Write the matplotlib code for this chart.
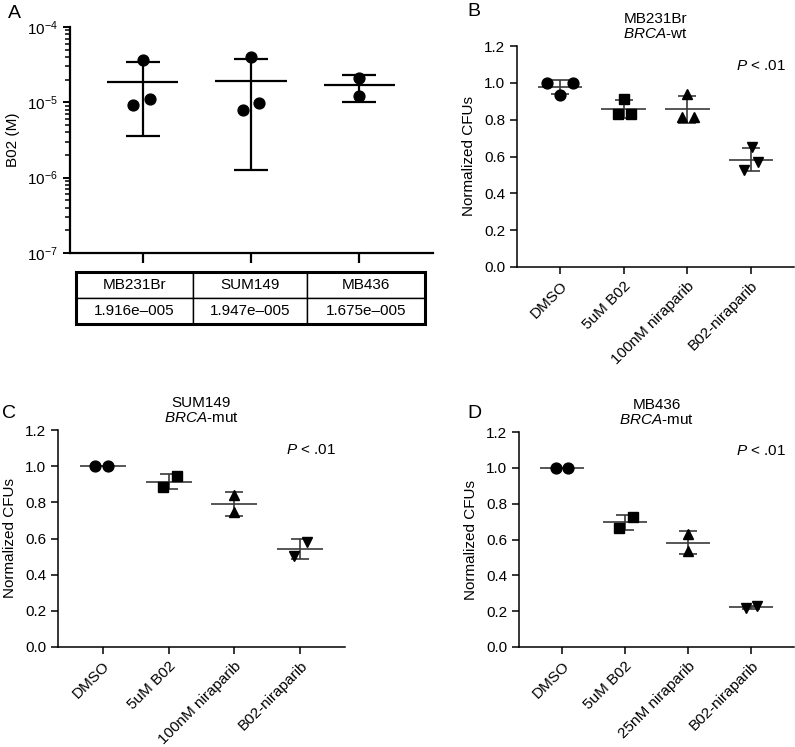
import numpy as np
import matplotlib
matplotlib.use('Agg')
import matplotlib.pyplot as plt
import matplotlib.transforms as mtransforms
from matplotlib.patches import Rectangle

plt.rcParams['font.family'] = ['Liberation Sans', 'DejaVu Sans']
plt.rcParams['mathtext.fontset'] = 'custom'
plt.rcParams['mathtext.rm'] = 'Liberation Sans'
plt.rcParams['mathtext.it'] = 'Liberation Sans:italic'
plt.rcParams['font.size'] = 11

# Panel A: B02 IC50 per cell line (M)
linesA = ['MB231Br', 'SUM149', 'MB436']
ic50A = [
    [3.66e-5, 9.1e-6, 1.1e-5],
    [3.98e-5, 7.9e-6, 9.8e-6],
    [2.135e-5, 1.215e-5],
]
tableA = [1.916e-5, 1.947e-5, 1.675e-5]

# Panels B-D: normalized CFUs
groupsB = ['DMSO', '5uM B02', '100nM niraparib', 'B02-niraparib']
cfuB = [
    [1.0, 1.0, 0.935],
    [0.913, 0.83, 0.83],
    [0.94, 0.815, 0.815],
    [0.652, 0.571, 0.527],
]
groupsC = ['DMSO', '5uM B02', '100nM niraparib', 'B02-niraparib']
cfuC = [
    [1.0, 1.0],
    [0.884, 0.945],
    [0.84, 0.746],
    [0.503, 0.58],
]
groupsD = ['DMSO', '5uM B02', '25nM niraparib', 'B02-niraparib']
cfuD = [
    [1.0, 1.0],
    [0.664, 0.726],
    [0.63, 0.536],
    [0.215, 0.228],
]

# horizontal scatter offsets of the points (layout only)
offA = [[0, -0.09, 0.07], [0, -0.07, 0.07], [0, 0]]
offB = [[-0.2, 0.2, 0], [0, -0.09, 0.11], [0, -0.09, 0.11], [0.02, 0.12, -0.1]]
offC = [[-0.12, 0.08], [-0.08, 0.13], [0, 0], [-0.1, 0.1]]
offD = [[-0.1, 0.1], [-0.1, 0.12], [0, 0], [-0.08, 0.1]]
markers = ['o', 's', '^', 'v']

W, H = 795, 747
fig = plt.figure(figsize=(W / 100, H / 100), dpi=100)


def px_axes(l, t, r, b):
    return fig.add_axes([l / W, 1 - b / H, (r - l) / W, (b - t) / H])


# ---- A ----
axA = px_axes(70, 27, 433, 253)
for i, vals in enumerate(ic50A):
    vals = np.array(vals)
    m = vals.mean()
    sd = vals.std(ddof=1)
    axA.plot(i + np.array(offA[i]), vals, 'o', color='black', ms=7.8, zorder=3)
    axA.hlines(m, i - 0.33, i + 0.33, color='black', lw=1.6)
    axA.errorbar(i, m, yerr=sd, fmt='none', ecolor='black', elinewidth=1.6,
                 capsize=12, capthick=1.6)
axA.set_yscale('log')
axA.set_ylim(1e-7, 1e-4)
axA.set_xlim(-0.67, 2.68)
axA.set_xticks(range(len(linesA)))
axA.set_xticklabels([])
axA.set_ylabel('B02 (M)', labelpad=5)
for s in ['top', 'right']:
    axA.spines[s].set_visible(False)
for s in ['left', 'bottom']:
    axA.spines[s].set_linewidth(1.6)
axA.tick_params(axis='both', which='major', width=1.4, length=5)
axA.tick_params(axis='y', which='minor', width=1.1, length=3.5)
axA.tick_params(axis='x', length=7, width=1.6)

cells = [linesA, ['%.3fe\u2013%03d' % (v / 10 ** np.floor(np.log10(v)), -np.floor(np.log10(v)))
                  for v in tableA]]
tb = axA.table(cellText=cells, cellLoc='center',
               colWidths=[0.335, 0.327, 0.338],
               bbox=[0.0165, -0.314, 0.961, 0.230])
tb.auto_set_font_size(False)
tb.set_fontsize(11)
for c in tb.get_celld().values():
    c.set_linewidth(1.0)
axA.add_patch(Rectangle((0.0165, -0.314), 0.961, 0.230, transform=axA.transAxes,
                        fill=False, lw=2.2, ec='black', clip_on=False))
fig.text(8 / W, 1 - 14 / H, 'A', fontsize=14, va='center')


def cfu_panel(ax, groups, data, offs, title, letter, lxy):
    gray = '#3a3a3a'
    for i, vals in enumerate(data):
        vals = np.array(vals)
        m = vals.mean()
        sd = vals.std(ddof=1)
        ax.hlines(m, i - 0.35, i + 0.35, color=gray, lw=1.2, zorder=2)
        ax.errorbar(i, m, yerr=sd, fmt='none', ecolor=gray, elinewidth=1.2,
                    capsize=6.5, capthick=1.2, zorder=2)
        ax.plot(i + np.array(offs[i]), vals, markers[i], color='black', ms=7.8, zorder=3)
    ax.set_xlim(-0.68, 3.68)
    ax.set_ylim(0, 1.2)
    ax.set_yticks(np.arange(0, 1.21, 0.2))
    ax.set_yticklabels(['%.1f' % v for v in np.arange(0, 1.21, 0.2)])
    ax.set_xticks(range(len(groups)))
    ax.set_xticklabels(groups, rotation=45, ha='right', va='top', rotation_mode='anchor')
    shift = mtransforms.ScaledTranslation(4 / 72, -2 / 72, fig.dpi_scale_trans)
    for lab in ax.get_xticklabels():
        lab.set_transform(lab.get_transform() + shift)
    ax.set_ylabel('Normalized CFUs', labelpad=6)
    for s in ['top', 'right']:
        ax.spines[s].set_visible(False)
    for s in ['left', 'bottom']:
        ax.spines[s].set_linewidth(1.1)
    ax.tick_params(length=5, width=1.1)
    ax.set_title(title, fontsize=11, pad=6, linespacing=1.1)
    ax.text(0.88, 0.91, r'$\mathit{P}$ < .01', transform=ax.transAxes,
            ha='center', va='center', fontsize=11)
    fig.text(lxy[0] / W, 1 - lxy[1] / H, letter, fontsize=14, va='center')


axB = px_axes(517, 46, 794, 267)
cfu_panel(axB, groupsB, cfuB, offB, 'MB231Br\n$\\mathit{BRCA}$-wt', 'B', (467, 11))
axC = px_axes(58, 430, 345, 647)
cfu_panel(axC, groupsC, cfuC, offC, 'SUM149\n$\\mathit{BRCA}$-mut', 'C', (2, 413))
axD = px_axes(519, 432, 794, 647)
cfu_panel(axD, groupsD, cfuD, offD, 'MB436\n$\\mathit{BRCA}$-mut', 'D', (467, 413))

fig.savefig('out.png', dpi=100)
